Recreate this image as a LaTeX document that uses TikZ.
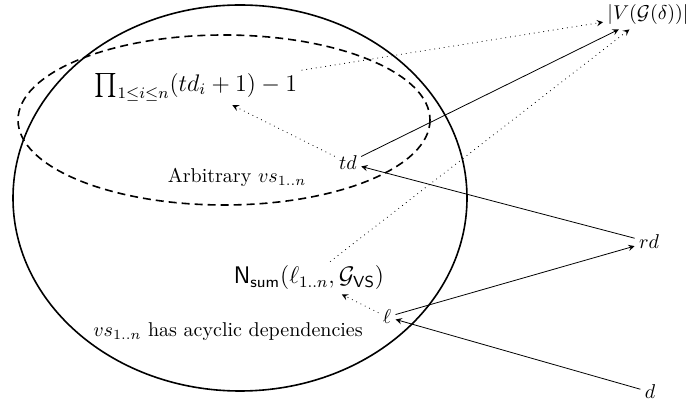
\documentclass[tikz,border=0pt]{standalone}
\usepackage{amsmath}
\usetikzlibrary{arrows.meta, positioning}

\begin{document}
\begin{tikzpicture}[
		>=stealth, x=0.5pt, y=-0.5pt,
		set/.style={thick},
		term/.style={inner sep=2pt},
		big/.style={term, font=\large},
		dep/.style={->},
		bound/.style={->, dotted},
		]
		\useasboundingbox (0,0) rectangle (696,405);
		
		% Mengen
		\draw[set] (240,198) ellipse [x radius=227, y radius=193];
		\draw[set, dash pattern=on 4pt off 2.5pt] (224,120) ellipse [x radius=206, y radius=85];
		
		% Beschriftungen der Mengen
		\node[big] (prod) at (196,87) {$\prod_{1\le i\le n}(td_i+1)-1$};
		\node[term] (arb) at (237,177) {Arbitrary $vs_{1..n}$};
		\node[term] (acyc) at (228,332) {$vs_{1..n}$ has acyclic dependencies};
		\node[big] (nsum) at (309,278) {$\mathsf{N}_{\mathsf{sum}}(\ell_{1..n},\mathcal{G}_{\mathsf{VS}})$};
		
		% Parameter
		\node[term] (vg) at (648,15) {$|V(\mathcal{G}(\delta))|$};
		\node[term] (td) at (348,163) {$td$};
		\node[term] (rd) at (649,242) {$rd$};
		\node[term] (d) at (650,392) {$d$};
		\node[term] (ell) at (387,317) {$\ell$};
		
		% Abhaengigkeiten
		\draw[dep] (td) -- (vg);
		\draw[dep] (rd) -- (td);
		\draw[dep] (ell) -- (rd);
		\draw[dep] (d) -- (ell);
		\draw[bound] (td) -- (prod);
		\draw[bound] (prod) -- (vg);
		\draw[bound] (nsum) -- (vg);
		\draw[bound] (ell) -- (nsum);
		
	\end{tikzpicture}
\end{document}
